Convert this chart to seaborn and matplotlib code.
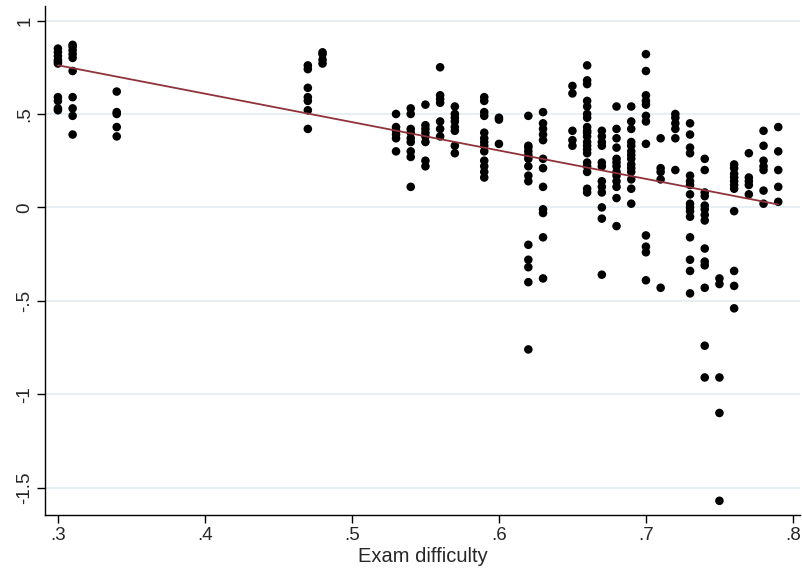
import numpy as np
import pandas as pd
import matplotlib
matplotlib.use("Agg")
import matplotlib.pyplot as plt
import seaborn as sns

# ---- data: exam difficulty levels and the scores observed at each ----
difficulty_levels = [0.30, 0.31, 0.34, 0.47, 0.48, 0.53, 0.54, 0.55, 0.56, 0.57,
                     0.59, 0.60, 0.62, 0.63, 0.65, 0.66, 0.67, 0.68, 0.69, 0.70,
                     0.71, 0.72, 0.73, 0.74, 0.75, 0.76, 0.77, 0.78, 0.79]

y_030 = [0.85, 0.83, 0.81, 0.79, 0.78, 0.77, 0.59, 0.57, 0.53, 0.52]
y_031 = [0.87, 0.86, 0.84, 0.82, 0.80, 0.73, 0.59, 0.53, 0.49, 0.39]
y_034 = [0.62, 0.51, 0.50, 0.43, 0.38]
y_047 = [0.76, 0.74, 0.64, 0.59, 0.57, 0.52, 0.42]
y_048 = [0.83, 0.82, 0.79, 0.77]
y_053 = [0.50, 0.43, 0.41, 0.39, 0.37, 0.30]
y_054 = [0.53, 0.50, 0.42, 0.40, 0.37, 0.35, 0.30, 0.27, 0.11]
y_055 = [0.55, 0.44, 0.42, 0.40, 0.38, 0.35, 0.25, 0.22]
y_056 = [0.75, 0.60, 0.58, 0.56, 0.46, 0.42, 0.38]
y_057 = [0.54, 0.50, 0.48, 0.46, 0.43, 0.41, 0.33, 0.29]
y_059 = [0.59, 0.57, 0.51, 0.49, 0.40, 0.37, 0.35, 0.33, 0.30, 0.25, 0.22, 0.19, 0.16]
y_060 = [0.48, 0.47, 0.34]
y_062 = [0.49, 0.33, 0.32, 0.30, 0.28, 0.26, 0.22, 0.17, 0.14, -0.20, -0.28, -0.32, -0.40, -0.76]
y_063 = [0.51, 0.45, 0.42, 0.39, 0.36, 0.26, 0.21, 0.11, -0.01, -0.03, -0.16, -0.38]
y_065 = [0.65, 0.61, 0.41, 0.36, 0.33]
y_066 = [0.76, 0.68, 0.66, 0.57, 0.54, 0.50, 0.48, 0.43, 0.41, 0.40, 0.38, 0.35, 0.33,
         0.31, 0.29, 0.24, 0.22, 0.19, 0.10, 0.08]
y_067 = [0.41, 0.38, 0.35, 0.33, 0.24, 0.22, 0.14, 0.11, 0.08, 0.00, -0.06, -0.36]
y_068 = [0.54, 0.42, 0.37, 0.32, 0.26, 0.24, 0.22, 0.19, 0.17, 0.14, 0.11, 0.05, -0.10]
y_069 = [0.54, 0.46, 0.42, 0.35, 0.33, 0.30, 0.28, 0.26, 0.23, 0.21, 0.19, 0.15, 0.10, 0.02]
y_070 = [0.82, 0.73, 0.60, 0.57, 0.55, 0.49, 0.46, 0.34, -0.15, -0.21, -0.24, -0.39]
y_071 = [0.37, 0.21, 0.19, 0.15, -0.43]
y_072 = [0.50, 0.48, 0.45, 0.42, 0.37, 0.20]
y_073 = [0.45, 0.39, 0.32, 0.29, 0.17, 0.14, 0.12, 0.07, 0.02, 0.00, -0.02, -0.05,
         -0.16, -0.28, -0.34, -0.46]
y_074 = [0.26, 0.20, 0.08, 0.06, 0.01, -0.01, -0.04, -0.07, -0.22, -0.29, -0.31, -0.43,
         -0.74, -0.91]
y_075 = [-0.38, -0.41, -0.91, -1.10, -1.57]
y_076 = [0.23, 0.21, 0.18, 0.16, 0.14, 0.12, 0.10, -0.02, -0.34, -0.42, -0.54]
y_077 = [0.29, 0.16, 0.14, 0.12, 0.07]
y_078 = [0.41, 0.33, 0.25, 0.22, 0.20, 0.09, 0.02]
y_079 = [0.43, 0.30, 0.20, 0.11, 0.03]

score_columns = [y_030, y_031, y_034, y_047, y_048, y_053, y_054, y_055, y_056, y_057,
                 y_059, y_060, y_062, y_063, y_065, y_066, y_067, y_068, y_069, y_070,
                 y_071, y_072, y_073, y_074, y_075, y_076, y_077, y_078, y_079]

x_ticks = [0.3, 0.4, 0.5, 0.6, 0.7, 0.8]
x_tick_labels = [".3", ".4", ".5", ".6", ".7", ".8"]
y_ticks = [-1.5, -1, -0.5, 0, 0.5, 1]
y_tick_labels = ["-1.5", "-1", "-.5", "0", ".5", "1"]

# ---- long-form table ----
rows = []
for d, col in zip(difficulty_levels, score_columns):
    for v in col:
        rows.append((d, v))
df = pd.DataFrame(rows, columns=["difficulty", "score"])

sns.set_style("white")
plt.rcParams["font.family"] = ["Liberation Sans", "DejaVu Sans"]

fig = plt.figure(figsize=(8.02, 5.69), dpi=100)
ax = fig.add_axes([0.0561, 0.0949, 0.9414, 0.8946])

sns.scatterplot(data=df, x="difficulty", y="score", ax=ax, color="black",
                s=38, edgecolor="none", linewidth=0, zorder=3)
sns.regplot(data=df, x="difficulty", y="score", ax=ax, scatter=False, ci=None,
            truncate=True, line_kws=dict(color="#90323A", lw=1.3, zorder=4))

ax.set_xlim(0.2912, 0.8048)
ax.set_ylim(-1.646, 1.078)
ax.set_xticks(x_ticks)
ax.set_xticklabels(x_tick_labels)
ax.set_yticks(y_ticks)
ax.set_yticklabels(y_tick_labels, rotation=90, va="center")

ax.grid(axis="y", color="#E6EEF1", lw=1.3, zorder=0)
ax.grid(axis="x", visible=False)
ax.set_axisbelow(True)

for s in ["top", "right"]:
    ax.spines[s].set_visible(False)
for s in ["left", "bottom"]:
    ax.spines[s].set_color("black")
    ax.spines[s].set_linewidth(1.0)

ax.tick_params(axis="both", direction="out", length=5.5, width=1.0, color="black",
               labelsize=13.5, pad=3, left=True, bottom=True)
ax.set_xlabel("Exam difficulty", fontsize=14.5, labelpad=2)
ax.set_ylabel("")

fig.savefig("out.png", dpi=100)
